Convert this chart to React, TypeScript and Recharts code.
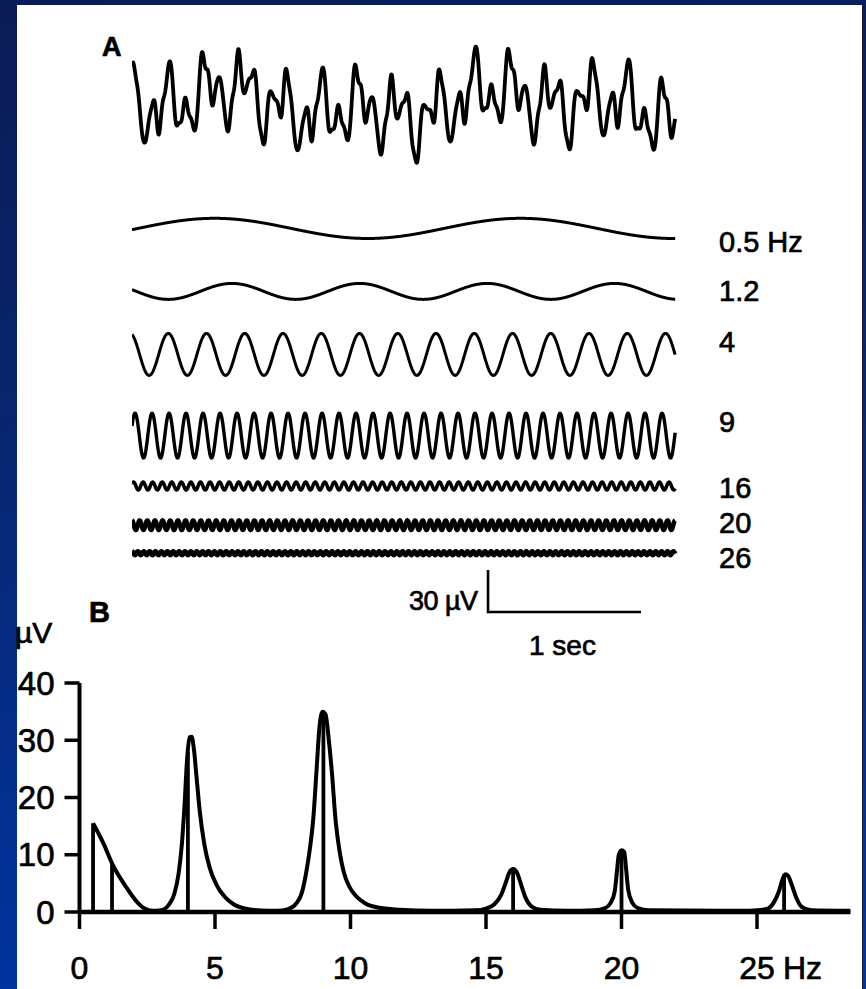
import React from 'react';
import { LineChart, ComposedChart, Line, XAxis, YAxis } from 'recharts';

// ---------- Panel A: EEG segment and its sinusoidal components ----------
const componentFreqs = [0.5, 1.2, 4, 9, 16, 20, 26]; // Hz
const componentLabels = ['0.5 Hz', '1.2', '4', '9', '16', '20', '26'];
const componentAmps = [7.2, 5.7, 15, 16, 2.8, 3.4, 1.3]; // µV
const componentCrests = [0.54, 0.654, 0.237, 0.02, 0.01, 0.0, 0.0]; // s, time of one crest

const traceSeconds = 3.55;
const sampleCount = 1400;

// calibration bar
const calSeconds = 1;
const calMicrovolts = 30;

// ---------- Panel B: amplitude spectrum ----------
const spectrumHz = [
  0.5, 0.9, 1.2, 1.7, 2.15, 2.4, 2.7, 3.0, 3.3, 3.5, 3.65, 3.78, 3.88, 3.96, 4.06, 4.14, 4.22, 4.32,
  4.44, 4.6, 4.8, 5.05, 5.35, 5.7, 6.1, 6.7, 7.3, 7.7, 8.0, 8.2, 8.35, 8.5, 8.63, 8.75, 8.85, 8.97,
  9.08, 9.2, 9.32, 9.45, 9.6, 9.75, 9.95, 10.2, 10.55, 11.0, 11.8, 13.0, 14.6, 15.0, 15.3, 15.55,
  15.72, 15.85, 16.0, 16.15, 16.28, 16.45, 16.7, 17.0, 18.0, 19.0, 19.4, 19.6, 19.75, 19.83, 19.9,
  20.0, 20.1, 20.17, 20.25, 20.4, 20.6, 21.0, 24.5, 25.0, 25.4, 25.6, 25.8, 25.95, 26.05, 26.15,
  26.3, 26.45, 26.65, 27.0, 28.45,
];
const spectrumUv = [
  15.5, 11.8, 8.5, 4.5, 1.6, 0.6, 0.2, 0.3, 1.3, 3.2, 6.5, 12, 19, 26, 30.5, 30.6, 28.5, 23.5,
  17.5, 12, 7.8, 4.8, 2.7, 1.3, 0.6, 0.25, 0.2, 0.5, 1.5, 3.3, 6.5, 11, 16.5, 25, 32, 35,
  34.5, 30, 24, 16, 10.5, 7, 4.5, 2.8, 1.5, 0.8, 0.4, 0.2, 0.3, 0.6, 1.3, 2.9,
  5, 6.8, 7.5, 6.8, 5, 2.6, 0.9, 0.4, 0.2, 0.3, 0.7, 1.6, 3.6, 7, 10,
  10.8, 10.5, 7.5, 3.8, 1.6, 0.7, 0.3, 0.2, 0.3, 0.6, 1.5, 3.5, 5.8, 6.6, 6.3,
  4.5, 2.5, 0.9, 0.3, 0.2,
];
const stickUv = [15.5, 8.5, 28, 34.8, 7.5, 10.8, 6.6];

const freqTicks = [0, 5, 10, 15, 20, 25];
const uvTicks = [0, 10, 20, 30, 40];

// ---------- layout ----------
const W = 866;
const H = 989;
const FONT = '"Liberation Sans", Arial, sans-serif';
const TEXT_STROKE = 0.7;

// Panel A: time axis 153 px/s starting at x=132; amplitude axis 1.4 px/µV
const A_LEFT = 132;
const A_PX_PER_S = 153;
const A_TMAX = 3.6;
const A_TOP = 20;
const A_BOTTOM = 640;
const A_PX_PER_UV = 1.4;
const A_YMAX = (A_BOTTOM - A_TOP) / A_PX_PER_UV;
// vertical centre of each trace on the stacked amplitude axis (µV units)
const eegBaseline = 382;
const componentBaselines = [294, 249, 204, 146, 110, 82, 62];
const componentWidths = [3, 3, 3, 3.4, 3.6, 4.6, 4.8];
const calStartT = 2.327;
const calBase = 20;

// Panel B plot box
const B_LEFT = 79.5;
const B_RIGHT = 850.5;
const B_TOP = 683;
const B_BOTTOM = 912;
const B_YAXIS_W = 60;
const B_XAXIS_H = 60;

// Build the sampled traces: each component is a sinusoid, the EEG is their sum
const traceRows = (() => {
  const rows: Record<string, number>[] = [];
  for (let i = 0; i <= sampleCount; i++) {
    const t = (i * traceSeconds) / sampleCount;
    const row: Record<string, number> = { t };
    let sum = 0;
    componentFreqs.forEach((f, k) => {
      const v = componentAmps[k] * Math.cos(2 * Math.PI * f * (t - componentCrests[k]));
      sum += v;
      row['c' + k] = componentBaselines[k] + v;
    });
    row.eeg = eegBaseline + sum;
    rows.push(row);
  }
  return rows;
})();

const calRows = [
  { t: calStartT, v: calBase + calMicrovolts },
  { t: calStartT, v: calBase },
  { t: calStartT + calSeconds, v: calBase },
];

const spectrumRows = spectrumHz.map((hz, i) => ({ hz, uv: spectrumUv[i] }));
const stickRows = componentFreqs.map((f, i) => [
  { hz: f, uv: 0 },
  { hz: f, uv: stickUv[i] },
]);

// label baselines for the component traces (px)
const labelBaselines = [252, 301, 352, 432, 498, 533, 568];

function FreqTick(props: any) {
  const { x, y, payload } = props;
  const v = payload.value;
  const last = v === freqTicks[freqTicks.length - 1];
  const common = {
    fontSize: 32,
    fontFamily: FONT,
    fill: '#000',
    stroke: '#000',
    strokeWidth: TEXT_STROKE,
  };
  return (
    <g>
      <text x={x} y={y + 50} textAnchor="middle" {...common}>
        {v}
      </text>
      {last && (
        <text x={x + 26} y={y + 50} textAnchor="start" {...common}>
          Hz
        </text>
      )}
    </g>
  );
}

export default function App() {
  return (
    <div
      style={{
        position: 'absolute',
        left: 0,
        top: 0,
        width: W,
        height: H,
        overflow: 'hidden',
        background: 'linear-gradient(175deg, #0b1b55 0%, #08266f 40%, #0035a4 100%)',
      }}
    >
      <div
        style={{
          position: 'absolute',
          left: 17,
          top: 5,
          width: 845,
          height: H - 5,
          background: '#ffffff',
          borderRight: '1px solid #1a1a3a',
        }}
      />

      {/* Panel A traces */}
      <div style={{ position: 'absolute', left: 0, top: 0 }}>
        <LineChart
          width={W}
          height={H}
          data={traceRows}
          margin={{
            top: A_TOP,
            bottom: H - A_BOTTOM,
            left: A_LEFT,
            right: W - (A_LEFT + A_PX_PER_S * A_TMAX),
          }}
        >
          <XAxis dataKey="t" type="number" domain={[0, A_TMAX]} allowDataOverflow hide />
          <YAxis type="number" domain={[0, A_YMAX]} allowDataOverflow hide />
          <Line
            dataKey="eeg"
            type="linear"
            stroke="#000"
            strokeWidth={3.8}
            dot={false}
            isAnimationActive={false}
            strokeLinejoin="round"
          />
          {componentFreqs.map((f, k) => (
            <Line
              key={f}
              dataKey={'c' + k}
              type="linear"
              stroke="#000"
              strokeWidth={componentWidths[k]}
              dot={false}
              isAnimationActive={false}
              strokeLinejoin="round"
            />
          ))}
          <Line
            data={calRows}
            dataKey="v"
            type="linear"
            stroke="#000"
            strokeWidth={2.6}
            dot={false}
            isAnimationActive={false}
          />
        </LineChart>
      </div>

      {/* Panel B spectrum */}
      <div style={{ position: 'absolute', left: 0, top: 0 }}>
        <ComposedChart
          width={W}
          height={H}
          margin={{
            top: B_TOP,
            bottom: H - B_BOTTOM - B_XAXIS_H,
            left: B_LEFT - B_YAXIS_W,
            right: W - B_RIGHT,
          }}
        >
          <XAxis
            dataKey="hz"
            type="number"
            domain={[0, 28.45]}
            allowDataOverflow
            ticks={freqTicks}
            interval={0}
            height={B_XAXIS_H}
            tickSize={17}
            tickMargin={0}
            axisLine={{ stroke: '#000', strokeWidth: 4.5 }}
            tickLine={{ stroke: '#000', strokeWidth: 3.5 }}
            tick={(p: any) => <FreqTick {...p} />}
          />
          <YAxis
            dataKey="uv"
            type="number"
            domain={[0, 40]}
            allowDataOverflow
            ticks={uvTicks}
            interval={0}
            width={B_YAXIS_W}
            tickSize={15}
            tickMargin={10}
            axisLine={{ stroke: '#000', strokeWidth: 4 }}
            tickLine={{ stroke: '#000', strokeWidth: 3.5 }}
            tick={{
              fill: '#000',
              stroke: '#000',
              strokeWidth: TEXT_STROKE,
              fontSize: 33,
              fontFamily: FONT,
            }}
          />
          <Line
            data={spectrumRows}
            dataKey="uv"
            type="monotone"
            stroke="#000"
            strokeWidth={4}
            dot={false}
            isAnimationActive={false}
            strokeLinejoin="round"
          />
          {stickRows.map((rows, i) => (
            <Line
              key={'s' + i}
              data={rows}
              dataKey="uv"
              type="linear"
              stroke="#000"
              strokeWidth={3.8}
              dot={false}
              isAnimationActive={false}
            />
          ))}
        </ComposedChart>
      </div>

      {/* text labels */}
      <svg
        width={W}
        height={H}
        style={{ position: 'absolute', left: 0, top: 0, pointerEvents: 'none' }}
        fontFamily={FONT}
        fill="#000"
        stroke="#000"
        strokeWidth={TEXT_STROKE}
      >
        <text x={102} y={56} fontSize={27} fontWeight="bold">
          A
        </text>
        {componentLabels.map((lab, i) => (
          <text key={lab} x={719} y={labelBaselines[i]} fontSize={29}>
            {lab}
          </text>
        ))}
        <text x={409} y={610} fontSize={27} letterSpacing={-0.5}>
          30 µV
        </text>
        <text x={529} y={655} fontSize={28}>
          1 sec
        </text>
        <text x={89} y={622} fontSize={29} fontWeight="bold">
          B
        </text>
        <text x={15} y={643} fontSize={30}>
          µV
        </text>
      </svg>
    </div>
  );
}
